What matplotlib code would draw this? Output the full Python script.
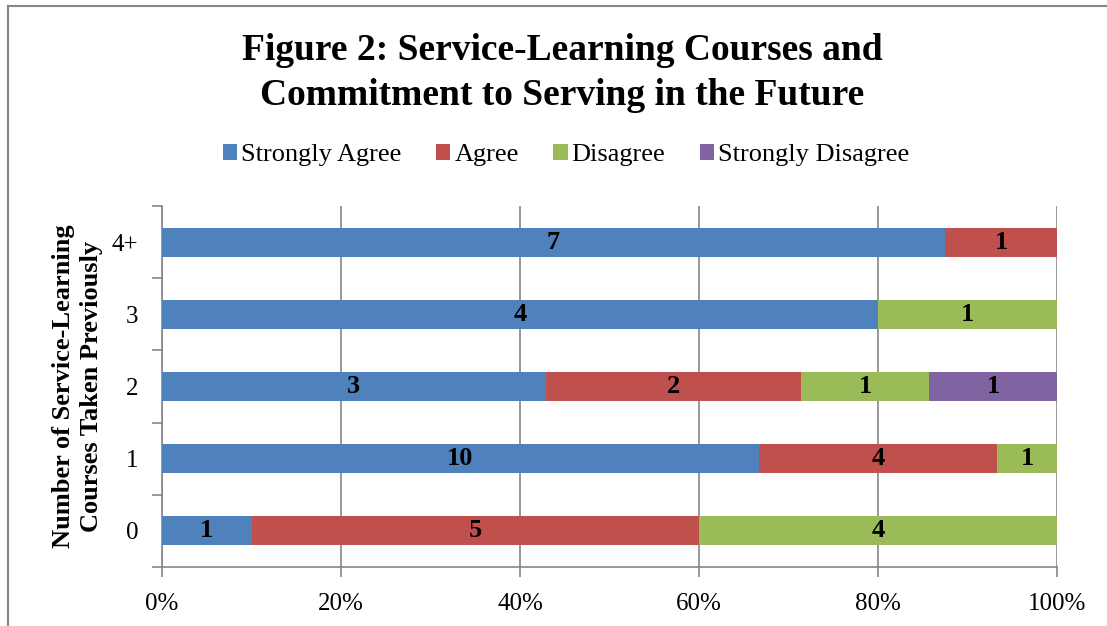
import matplotlib
matplotlib.use("Agg")
import matplotlib.pyplot as plt
import numpy as np
from matplotlib.lines import Line2D

categories = ["0", "1", "2", "3", "4+"]
series_names = ["Strongly Agree", "Agree", "Disagree", "Strongly Disagree"]
strongly_agree = [1, 10, 3, 4, 7]
agree = [5, 4, 2, 0, 1]
disagree = [4, 1, 1, 1, 0]
strongly_disagree = [0, 0, 1, 0, 0]
colors = ["#4F81BD", "#C0504D", "#9BBB59", "#8064A2"]
x_ticks = [0, 20, 40, 60, 80, 100]

plt.rcParams['font.family'] = ['Liberation Serif', 'DejaVu Serif']

fig = plt.figure(figsize=(11.07, 6.26), dpi=100)
ax = fig.add_axes([162/1107, 1-567/626, (1057-162)/1107, (567-206)/626])

data = np.array([strongly_agree, agree, disagree, strongly_disagree], dtype=float)
totals = data.sum(axis=0)
pct = data / totals * 100
y = np.arange(len(categories))
left = np.zeros(len(categories))
for i, name in enumerate(series_names):
    ax.barh(y, pct[i], left=left, height=0.4, color=colors[i], label=name, zorder=3)
    for j in range(len(categories)):
        if data[i, j] > 0:
            ax.text(left[j] + pct[i, j]/2, y[j], f"{int(data[i, j])}", ha='center', va='center',
                    fontsize=19, fontweight='bold', color='black', zorder=4)
    left += pct[i]

ax.set_xlim(0, 100)
ax.set_ylim(-0.5, len(categories) - 0.5)
ax.set_xticks(x_ticks)
ax.set_xticklabels([f"{t}%" for t in x_ticks], fontsize=18)
ax.set_yticks(y)
ax.set_yticklabels(categories, fontsize=18)
ax.set_yticks(np.arange(-0.5, len(categories), 1), minor=True)
ax.tick_params(axis='y', which='major', length=0, pad=17)
ax.tick_params(axis='y', which='minor', length=7, color='#868686', width=1.2)
ax.tick_params(axis='x', which='major', length=7, color='#868686', width=1.2, pad=12, direction='out')
ax.grid(axis='x', color='#868686', linewidth=1.2, zorder=0)
for s in ['top', 'right']:
    ax.spines[s].set_visible(False)
for s in ['left', 'bottom']:
    ax.spines[s].set_color('#868686')
    ax.spines[s].set_linewidth(1.2)

ax.set_ylabel("Number of Service-Learning\nCourses Taken Previously", fontsize=19, fontweight='bold',
              linespacing=1.25)
ax.yaxis.set_label_coords(-0.066, 0.5)

fig.text(562/1107, 1-73/626, "Figure 2: Service-Learning Courses and\nCommitment to Serving in the Future",
         ha='center', va='center', fontsize=27, fontweight='bold', linespacing=1.35)

leg = fig.legend(loc='center', bbox_to_anchor=(566/1107, 1-155/626), ncol=4, frameon=False,
                 fontsize=19, handlelength=0.55, handleheight=0.55, handletextpad=0.15, columnspacing=1.3)

# outer border
fig.add_artist(Line2D([8/1107, 8/1107], [0, 1-6/626], transform=fig.transFigure, color='#868686', lw=1.5))
fig.add_artist(Line2D([8/1107, 1], [1-6/626, 1-6/626], transform=fig.transFigure, color='#868686', lw=1.5))

fig.savefig("out.png", dpi=100)
